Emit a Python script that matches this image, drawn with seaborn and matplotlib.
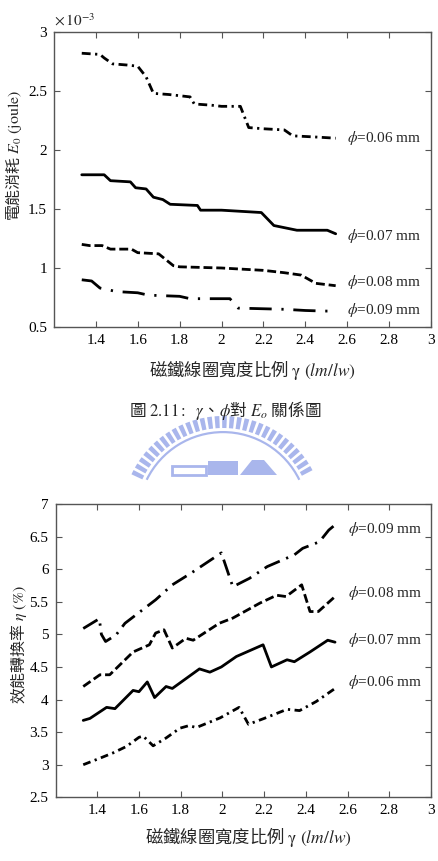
import numpy as np
import pandas as pd
import matplotlib
matplotlib.use('Agg')
import matplotlib.pyplot as plt
import seaborn as sns
from matplotlib.patches import Wedge, Rectangle, Polygon
from matplotlib.ticker import FuncFormatter

# ---------------- data (top: E0 in units of 1e-3 joule) ----------------
phi_labels = ["0.06", "0.07", "0.08", "0.09"]

top_x06 = [1.333, 1.42, 1.44, 1.48, 1.55, 1.60, 1.64, 1.675, 1.75, 1.80, 1.85, 1.87, 1.95, 2.0, 2.09, 2.13, 2.20, 2.30, 2.34, 2.45, 2.545]
top_e06 = [2.82, 2.81, 2.78, 2.73, 2.72, 2.71, 2.62, 2.48, 2.47, 2.46, 2.45, 2.39, 2.38, 2.37, 2.37, 2.19, 2.18, 2.17, 2.12, 2.11, 2.10]

top_x07 = [1.333, 1.44, 1.47, 1.565, 1.59, 1.64, 1.675, 1.72, 1.755, 1.885, 1.90, 2.0, 2.19, 2.25, 2.36, 2.505, 2.545]
top_e07 = [1.79, 1.79, 1.74, 1.73, 1.68, 1.67, 1.60, 1.58, 1.54, 1.53, 1.49, 1.49, 1.47, 1.36, 1.32, 1.32, 1.29]

top_x08 = [1.333, 1.37, 1.43, 1.47, 1.57, 1.60, 1.70, 1.77, 1.80, 2.0, 2.2, 2.3, 2.38, 2.45, 2.545]
top_e08 = [1.20, 1.19, 1.19, 1.16, 1.16, 1.13, 1.12, 1.02, 1.01, 1.00, 0.98, 0.96, 0.94, 0.87, 0.85]

top_x09 = [1.333, 1.38, 1.42, 1.50, 1.60, 1.65, 1.80, 1.85, 2.04, 2.08, 2.30, 2.40, 2.49, 2.545]
top_e09 = [0.90, 0.89, 0.83, 0.80, 0.79, 0.77, 0.76, 0.74, 0.74, 0.66, 0.65, 0.64, 0.635, 0.635]

top_label_y = [2.10, 1.27, 0.885, 0.646]

# ---------------- data (bottom: efficiency %) ----------------
bot_x06 = [1.333, 1.413, 1.475, 1.54, 1.60, 1.62, 1.668, 1.73, 1.796, 1.84, 1.875, 1.99, 2.08, 2.125, 2.20, 2.31, 2.37, 2.45, 2.54]
bot_n06 = [3.00, 3.10, 3.18, 3.28, 3.42, 3.44, 3.29, 3.41, 3.56, 3.60, 3.57, 3.72, 3.88, 3.62, 3.71, 3.85, 3.83, 3.97, 4.17]

bot_x07 = [1.333, 1.365, 1.445, 1.485, 1.572, 1.60, 1.64, 1.675, 1.73, 1.76, 1.89, 1.94, 1.995, 2.067, 2.195, 2.235, 2.31, 2.345, 2.42, 2.505, 2.54]
bot_n07 = [3.68, 3.71, 3.88, 3.86, 4.14, 4.12, 4.27, 4.03, 4.20, 4.17, 4.47, 4.42, 4.50, 4.66, 4.84, 4.50, 4.61, 4.58, 4.73, 4.91, 4.88]

bot_x08 = [1.333, 1.413, 1.46, 1.572, 1.65, 1.68, 1.72, 1.76, 1.825, 1.86, 1.985, 2.05, 2.18, 2.26, 2.305, 2.38, 2.42, 2.46, 2.54]
bot_n08 = [4.20, 4.38, 4.38, 4.73, 4.84, 5.02, 5.07, 4.79, 4.94, 4.91, 5.17, 5.25, 5.48, 5.60, 5.58, 5.76, 5.35, 5.35, 5.58]

bot_x09 = [1.333, 1.41, 1.42, 1.44, 1.49, 1.533, 1.68, 1.76, 1.85, 1.995, 2.05, 2.13, 2.215, 2.345, 2.385, 2.465, 2.51, 2.54]
bot_n09 = [5.09, 5.24, 5.00, 4.89, 4.99, 5.17, 5.53, 5.76, 5.94, 6.25, 5.73, 5.86, 6.04, 6.22, 6.32, 6.42, 6.60, 6.68]

bot_label_y = [4.27, 4.91, 5.63, 6.62]

x_ticks = [1.4, 1.6, 1.8, 2.0, 2.2, 2.4, 2.6, 2.8, 3.0]
top_yticks = [0.5, 1.0, 1.5, 2.0, 2.5, 3.0]
bot_yticks = [2.5, 3.0, 3.5, 4.0, 4.5, 5.0, 5.5, 6.0, 6.5, 7.0]

# ---------------- style ----------------
sns.set_theme(style='white')
plt.rcParams['font.family'] = ['Liberation Serif', 'Noto Sans CJK TC']
plt.rcParams['mathtext.fontset'] = 'stix'
CJK = 'Noto Sans CJK TC'

W, H = 439, 861
fig = plt.figure(figsize=(W / 100, H / 100), dpi=100)

# watermark-ish logo (decorative background)
bg = fig.add_axes([0, 0, 1, 1], zorder=-5)
bg.set_xlim(0, W)
bg.set_ylim(H, 0)
bg.axis('off')
wm = '#a9b6ec'
cx, cy, R = 223, 517, 101
for a in np.arange(205, 334, 4.3):
    bg.add_patch(Wedge((cx, cy), R, a, a + 2.7, width=12, color=wm, lw=0))
bg.add_patch(Wedge((cx, cy), R - 15, 206, 334, width=2.2, color=wm, lw=0))
bg.add_patch(Rectangle((172, 466), 34, 9, fill=False, ec=wm, lw=2))
bg.add_patch(Rectangle((208, 461), 30, 14, color=wm, lw=0))
bg.add_patch(Polygon([(240, 475), (252, 460), (264, 460), (277, 475)], color=wm, lw=0))

ax1 = fig.add_axes([53.9 / W, 1 - 327 / H, (431 - 53.9) / W, (327 - 32) / H])
ax2 = fig.add_axes([55.5 / W, 1 - 797.3 / H, (431 - 55.5) / W, (797.3 - 504) / H])

dash_top = {"0.06": (3.2, 1.6, 0.8, 1.6), "0.07": "", "0.08": (3.2, 1.4), "0.09": (8, 3.5, 0.8, 3.5)}
dash_bot = {"0.06": (2.8, 1.6, 0.8, 1.6), "0.07": "", "0.08": (3.2, 1.4), "0.09": (6, 2.5, 0.8, 2.5)}

top_sets = [(top_x06, top_e06), (top_x07, top_e07), (top_x08, top_e08), (top_x09, top_e09)]
bot_sets = [(bot_x06, bot_n06), (bot_x07, bot_n07), (bot_x08, bot_n08), (bot_x09, bot_n09)]

df_top = pd.concat([pd.DataFrame({'gamma': x, 'E': np.array(e) * 1e-3, 'phi': p})
                    for (x, e), p in zip(top_sets, phi_labels)], ignore_index=True)
df_bot = pd.concat([pd.DataFrame({'gamma': x, 'eta': n, 'phi': p})
                    for (x, n), p in zip(bot_sets, phi_labels)], ignore_index=True)

sns.lineplot(data=df_top, x='gamma', y='E', style='phi', dashes=dash_top, color='black',
             lw=2, estimator=None, sort=False, legend=False, ax=ax1)
sns.lineplot(data=df_bot, x='gamma', y='eta', style='phi', dashes=dash_bot, color='black',
             lw=2, estimator=None, sort=False, legend=False, ax=ax2)

for p, ly in zip(phi_labels, top_label_y):
    ax1.text(2.6, ly * 1e-3, r'$\phi$=' + p + ' mm', ha='left', va='center', fontsize=11)
for p, ly in zip(phi_labels, bot_label_y):
    ax2.text(2.6, ly, r'$\phi$=' + p + ' mm', ha='left', va='center', fontsize=11)

xfmt = FuncFormatter(lambda v, pos: f'{v:g}')
for ax in (ax1, ax2):
    ax.set_xlim(1.2, 3.0)
    ax.set_xticks(x_ticks)
    ax.xaxis.set_major_formatter(xfmt)
    ax.tick_params(direction='in', top=True, right=True, bottom=True, left=True,
                   length=4, width=0.8, color='#555555', labelsize=11, labelcolor='black', pad=5)
    for s in ax.spines.values():
        s.set_color('#555555')
        s.set_linewidth(1.0)
    ax.set_facecolor('none')

ax1.set_ylim(0.5e-3, 3.0e-3)
ax1.set_yticks([v * 1e-3 for v in top_yticks])
ax1.yaxis.set_major_formatter(FuncFormatter(lambda v, pos: f'{v * 1e3:g}'))
ax1.text(0.0, 1.012, r'$\times\,10^{-3}$', transform=ax1.transAxes, ha='left', va='bottom', fontsize=11)

ax2.set_ylim(2.5, 7.0)
ax2.set_yticks(bot_yticks)
ax2.yaxis.set_major_formatter(FuncFormatter(lambda v, pos: f'{v:g}'))

xlabel = r'磁鐵線圈寬度比例 $\mathrm{\gamma}\ (lm/lw)$'
ax1.set_xlabel(xlabel, fontsize=12.5, va='top', family=CJK)
ax1.xaxis.set_label_coords(0.525, -0.105)
ax2.set_xlabel(xlabel, fontsize=12.5, va='top', family=CJK)
ax2.xaxis.set_label_coords(0.513, -0.094)

ax1.set_ylabel(r'電能消耗 $E_0\ \mathrm{(joule)}$', fontsize=11.5, family=CJK)
ax1.yaxis.set_label_coords(-0.078, 0.583)
ax2.set_ylabel(r'效能轉換率 $\eta\ \mathrm{(\%)}$', fontsize=11.5, family=CJK)
ax2.yaxis.set_label_coords(-0.07, 0.519)

fig.text(225 / W, 1 - 410 / H, r'圖 $\mathrm{2.11:}\ \ \gamma$、$\phi$對 $E_o$ 關係圖',
         ha='center', va='center', fontsize=12, family=CJK)

fig.savefig('out.png', dpi=100)
